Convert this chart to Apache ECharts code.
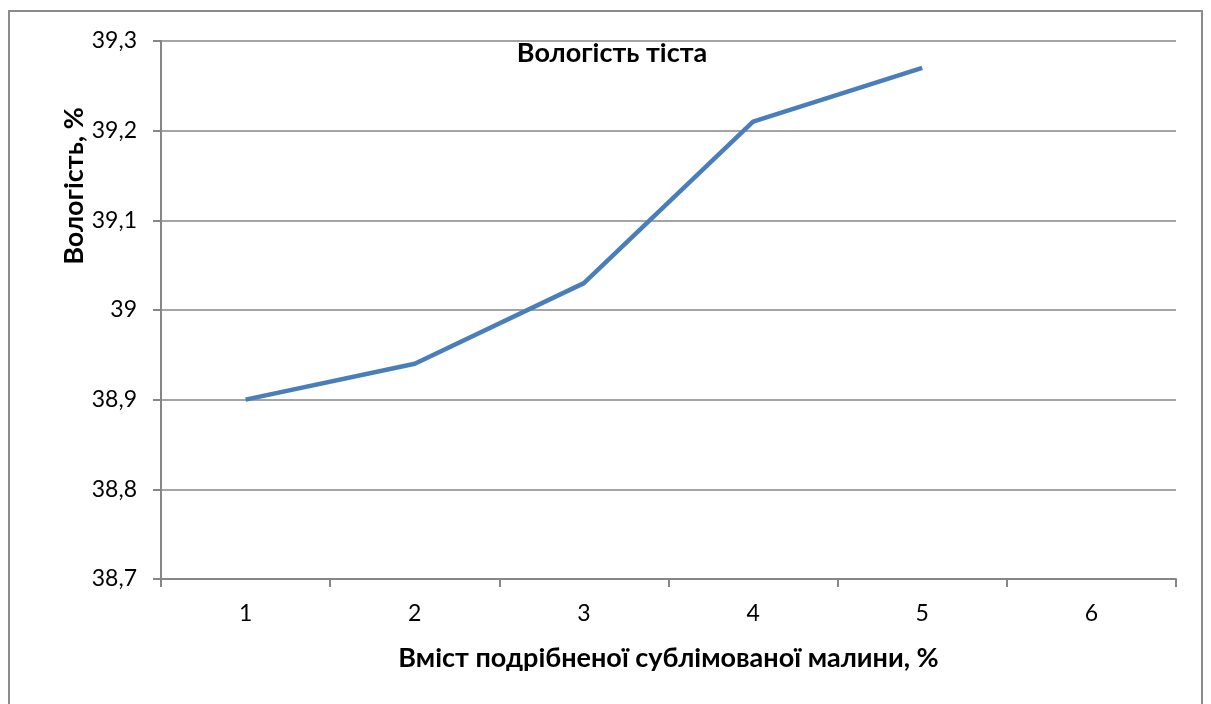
<!DOCTYPE html>
<html>
<head>
<meta charset="utf-8">
<script src="https://cdn.jsdelivr.net/npm/echarts@6/dist/echarts.min.js"></script>
<style>
  html, body { margin: 0; padding: 0; background: #fff; overflow: hidden; }
  #frame { position: absolute; left: 8px; top: 10px; width: 1195px; height: 720px; border: 2px solid #8c8c8c; box-sizing: border-box; }
  #chart { position: absolute; left: 0; top: 0; width: 1211px; height: 704px; }
</style>
</head>
<body>
<div id="frame"></div>
<div id="chart"></div>
<script>
// Дані графіка
const categories = ['1', '2', '3', '4', '5', '6'];
const moisture = [38.9, 38.94, 39.03, 39.21, 39.27, null];

const FONT = 'Lato';
const chart = echarts.init(document.getElementById('chart'));

const option = {
    animation: false,
    title: {
        text: 'Вологість тіста',
        left: 607,
        top: 35,
        textAlign: 'center',
        textStyle: { fontFamily: FONT, fontSize: 27, fontWeight: 'bold', color: '#000' }
    },
    // підпис осі Y зміщений вгору, як в оригіналі
    graphic: [{
        type: 'text',
        x: 74,
        y: 186,
        rotation: Math.PI / 2,
        style: {
            text: 'Вологість, %',
            font: 'bold 27px ' + FONT,
            fill: '#000',
            textAlign: 'center',
            textVerticalAlign: 'middle'
        }
    }],
    grid: { left: 161, top: 41, right: 35, bottom: 125 },
    xAxis: {
        type: 'category',
        data: categories,
        boundaryGap: true,
        name: 'Вміст подрібненої сублімованої малини, %',
        nameLocation: 'middle',
        nameGap: 66,
        nameTextStyle: { fontFamily: FONT, fontSize: 27, fontWeight: 'bold', color: '#000' },
        axisLine: { lineStyle: { color: '#868686', width: 2 } },
        axisTick: { show: true, length: 8, lineStyle: { color: '#868686', width: 2 } },
        axisLabel: { fontFamily: FONT, fontSize: 23, color: '#000', margin: 23 }
    },
    yAxis: {
        type: 'value',
        min: 38.7,
        max: 39.3,
        interval: 0.1,
        axisLine: { show: true, lineStyle: { color: '#868686', width: 2 } },
        axisTick: { show: true, length: 8, lineStyle: { color: '#868686', width: 2 } },
        axisLabel: {
            fontFamily: FONT, fontSize: 23, color: '#000', margin: 24,
            formatter: v => {
                const r = Math.round(v * 10) / 10;
                return r === 39 ? '39' : r.toFixed(1).replace('.', ',');
            }
        },
        splitLine: { lineStyle: { color: '#868686', width: 1.5 } }
    },
    series: [{
        name: 'Вологість',
        type: 'line',
        data: moisture,
        showSymbol: false,
        symbol: 'none',
        lineStyle: { color: '#4a7ebb', width: 4.5 },
        itemStyle: { color: '#4a7ebb' }
    }]
};

chart.setOption(option);
</script>
</body>
</html>
